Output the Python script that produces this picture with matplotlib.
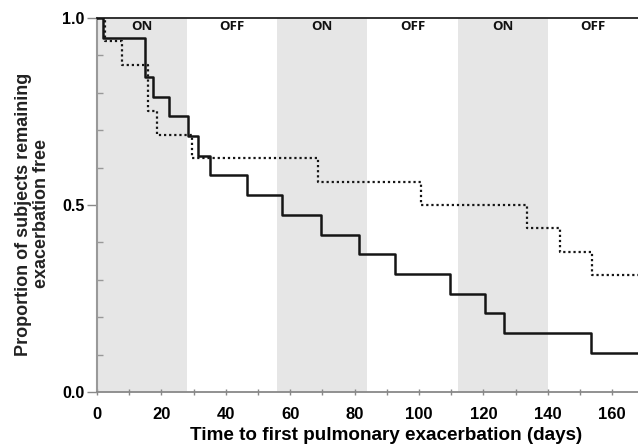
import numpy as np
import matplotlib
matplotlib.use("Agg")
import matplotlib.pyplot as plt
from matplotlib.ticker import MultipleLocator

# Kaplan-Meier style curves (event day, survival after event)
solid_days = [0, 2.0, 14.8, 17.5, 22.5, 28.3, 31.4, 35.2, 46.5, 57.3, 69.5,
              81.5, 92.5, 109.5, 120.5, 126.4, 153.4, 168]
solid_surv = [1.0, 0.947, 0.842, 0.789, 0.737, 0.684, 0.632, 0.579, 0.526,
              0.474, 0.421, 0.368, 0.316, 0.263, 0.211, 0.158, 0.105, 0.105]

dotted_days = [0, 2.5, 7.8, 15.8, 18.5, 29.5, 68.5, 100.5, 133.5, 143.7, 153.8, 168]
dotted_surv = [1.0, 0.9375, 0.875, 0.75, 0.6875, 0.625, 0.5625, 0.5, 0.4375,
               0.375, 0.3125, 0.3125]

# treatment cycles (28 days on / 28 days off)
cycle_starts = [0, 28, 56, 84, 112, 140]
cycle_labels = ["ON", "OFF", "ON", "OFF", "ON", "OFF"]
cycle_len = 28

fig = plt.figure(figsize=(6.38, 4.47), dpi=100)
ax = fig.add_axes([0.152, 0.123, 0.848, 0.837])

for start, lab in zip(cycle_starts, cycle_labels):
    if lab == "ON":
        ax.axvspan(start, start + cycle_len, color="#e6e6e6", lw=0, zorder=0)
    ax.text(start + cycle_len / 2, 0.977, lab, ha="center", va="center",
            fontsize=9.5, fontweight="bold", family="Open Sans", color="#111111")

ax.step(solid_days, solid_surv, where="post", color="#151515", lw=1.8, zorder=3)
ax.step(dotted_days, dotted_surv, where="post", color="#151515", lw=1.6,
        linestyle=(0, (1, 1.3)), zorder=3)

ax.set_xlim(0, 168)
ax.set_ylim(0, 1.0)

ax.xaxis.set_major_locator(MultipleLocator(20))
ax.xaxis.set_minor_locator(MultipleLocator(10))
ax.yaxis.set_major_locator(MultipleLocator(0.5))
ax.yaxis.set_minor_locator(MultipleLocator(0.1))
ax.yaxis.set_major_formatter(matplotlib.ticker.FormatStrFormatter("%.1f"))

ax.tick_params(axis="x", which="both", direction="inout", length=5, width=1,
               color="#888888", labelsize=12, pad=8)
ax.tick_params(axis="y", which="major", direction="out", length=7, width=1,
               color="#888888", labelsize=11.5, pad=2)
ax.tick_params(axis="y", which="minor", direction="in", length=4, width=1,
               color="#999999")
for lbl in ax.get_xticklabels() + ax.get_yticklabels():
    lbl.set_fontweight("bold")
    lbl.set_family("Liberation Sans")

ax.spines["right"].set_visible(False)
ax.spines["top"].set_color("#222222")
ax.spines["top"].set_linewidth(1.3)
ax.spines["left"].set_color("#999999")
ax.spines["left"].set_linewidth(1.5)
ax.spines["bottom"].set_color("#888888")
ax.spines["bottom"].set_linewidth(1.3)

ax.set_xlabel("Time to first pulmonary exacerbation (days)", fontsize=13.6,
              fontweight="bold", family="Liberation Sans")
ax.xaxis.set_label_coords(0.534, -0.093)
ax.set_ylabel("Proportion of subjects remaining\nexacerbation free", fontsize=13,
              fontweight="bold", family="Liberation Sans", linespacing=1.05,
              color="#222222")
ax.yaxis.set_label_coords(-0.087, 0.476)

fig.savefig("out.png", dpi=100)
